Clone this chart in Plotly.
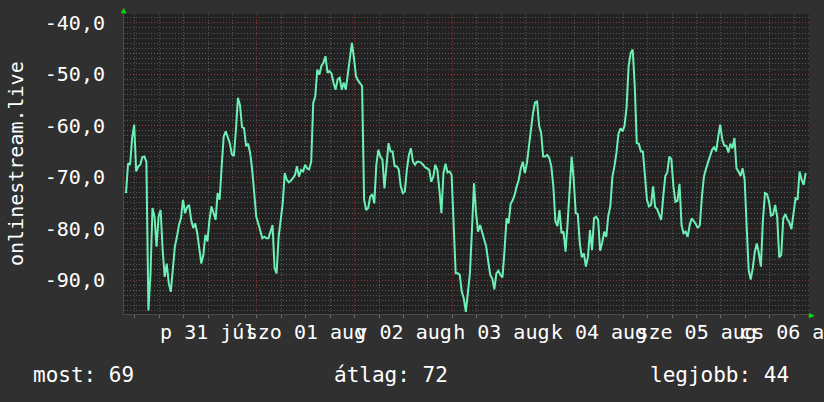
import plotly.graph_objects as go
import pandas as pd

# ---- data ----
start_time = "2020-07-30 15:50"
step = "30min"
signal_values = [
    -73.1, -67.3, -67.6, -62.4, -59.8, -68.9, -67.9, -67.6, -66.1, -66.0,
    -67.0, -95.9, -89.0, -76.0, -77.7, -83.5, -77.7, -76.4, -84.2, -89.4,
    -86.8, -90.6, -92.3, -87.4, -83.5, -81.6, -79.3, -78.0, -74.4, -77.0,
    -75.8, -75.4, -78.3, -79.9, -79.0, -80.9, -84.2, -86.8, -85.1, -81.2,
    -82.5, -78.3, -75.7, -77.0, -78.3, -73.1, -74.4, -67.9, -62.1, -61.1,
    -62.2, -63.4, -65.6, -65.9, -60.8, -54.6, -56.0, -60.3, -60.5, -64.0,
    -63.5, -65.3, -68.6, -73.8, -77.7, -79.0, -80.3, -81.9, -81.6, -81.9,
    -81.9, -80.3, -79.3, -87.7, -88.7, -81.6, -78.6, -75.1, -69.2, -70.5,
    -71.0, -70.7, -70.2, -69.6, -67.9, -69.9, -68.6, -68.9, -67.6, -68.3,
    -68.5, -67.0, -55.6, -54.3, -49.1, -50.1, -48.4, -47.8, -46.5, -49.7,
    -49.4, -49.9, -51.7, -53.0, -51.0, -50.7, -53.0, -51.6, -53.0, -49.7,
    -46.5, -43.9, -46.8, -50.4, -51.2, -51.7, -52.3, -74.4, -76.4, -76.0,
    -73.8, -73.3, -75.1, -67.6, -64.7, -66.0, -66.6, -72.2, -67.3, -63.4,
    -65.0, -65.0, -67.9, -67.9, -68.5, -71.8, -73.1, -72.8, -68.6, -65.7,
    -64.4, -67.0, -67.6, -67.0, -67.0, -67.2, -67.6, -68.1, -68.3, -68.6,
    -70.9, -69.9, -67.6, -68.6, -72.5, -77.0, -69.2, -67.4, -69.1, -68.9,
    -69.6, -80.9, -88.7, -88.7, -89.0, -92.3, -93.6, -96.2, -92.6, -88.7,
    -80.3, -71.2, -77.0, -80.6, -79.3, -80.9, -82.2, -83.5, -86.4, -89.0,
    -89.7, -91.8, -88.7, -88.2, -89.0, -89.5, -84.2, -78.0, -79.0, -75.2,
    -74.5, -73.4, -71.8, -70.5, -68.3, -67.0, -69.2, -67.3, -64.0, -60.8,
    -57.5, -55.5, -55.3, -60.0, -61.4, -66.0, -66.0, -65.7, -66.3, -67.9,
    -71.8, -78.6, -79.5, -76.4, -80.9, -80.6, -84.5, -79.0, -71.5, -66.0,
    -70.5, -77.0, -77.2, -82.9, -85.6, -84.8, -87.4, -85.5, -80.3, -84.2,
    -78.0, -77.7, -78.3, -84.3, -82.7, -80.6, -81.6, -77.5, -75.7, -70.0,
    -67.9, -65.3, -61.6, -60.5, -61.1, -60.0, -56.3, -48.4, -45.9, -45.2,
    -52.3, -63.4, -63.5, -65.0, -65.0, -69.2, -74.4, -75.7, -75.4, -71.8,
    -75.8, -76.2, -77.2, -78.3, -73.8, -69.8, -69.1, -66.0, -66.5, -71.8,
    -74.8, -74.6, -71.3, -79.3, -80.9, -80.6, -81.6, -79.3, -78.0, -78.5,
    -79.1, -79.9, -79.3, -73.8, -69.9, -68.4, -67.0, -65.9, -64.7, -64.2,
    -65.0, -62.2, -59.8, -62.7, -63.9, -63.9, -65.2, -63.5, -64.4, -62.4,
    -68.3, -68.9, -69.8, -68.3, -70.5, -79.6, -88.1, -89.9, -87.7, -84.5,
    -82.9, -84.8, -87.4, -78.3, -73.1, -73.3, -74.8, -77.5, -77.3, -75.4,
    -77.7, -85.6, -85.1, -78.0, -77.2, -78.2, -78.8, -80.1, -77.0, -74.1,
    -74.4, -68.9, -70.5, -71.5, -69.2,
]

day_ticks = ["2020-07-31", "2020-08-01", "2020-08-02", "2020-08-03",
             "2020-08-04", "2020-08-05", "2020-08-06"]
day_labels = ["p 31 júl", "szo 01 aug", "v 02 aug", "h 03 aug",
              "k 04 aug", "sze 05 aug", "cs 06 aug"]
y_ticks = [-40, -50, -60, -70, -80, -90]
y_labels = ["-40,0", "-50,0", "-60,0", "-70,0", "-80,0", "-90,0"]
x_range = ["2020-07-30 15:20", "2020-08-06 15:39"]
y_range = [-96.6, -38.3]
series_name = "onlinestream.live"
current_value = 69
average_value = 72
best_value = 44

times = pd.date_range(start_time, periods=len(signal_values), freq=step)

# ---- styling ----
FONT = "DejaVu Sans Mono"
BG = "#303030"
PLOT_BG = "#222222"
MAJOR = "#8c3434"
MINOR = "#575757"
LINE = "#6cf0b6"

W, H = 824, 402
L, R, T, B = 124, 15, 14, 88
pw, ph = W - L - R, H - T - B


def px_x(px):
    return (px - L) / pw


def px_y(py):
    return (H - B - py) / ph


fig = go.Figure()
fig.add_trace(go.Scatter(
    x=times, y=signal_values, mode="lines",
    line=dict(color=LINE, width=2), hoverinfo="skip", showlegend=False,
))

fig.update_layout(
    width=W, height=H,
    margin=dict(l=L, r=R, t=T, b=B, pad=0, autoexpand=False),
    paper_bgcolor=BG, plot_bgcolor=PLOT_BG,
    font=dict(family=FONT, size=20, color="white"),
    showlegend=False,
)

fig.update_xaxes(
    type="date", range=x_range, automargin=False,
    tickmode="array", tickvals=day_ticks, ticktext=day_labels,
    ticklabelshift=49, ticklabeloverflow="allow", tickangle=0,
    ticks="", ticklen=0,
    showgrid=True, gridcolor=MAJOR, griddash="1px,2px", gridwidth=1,
    minor=dict(tickmode="linear", tick0="2020-07-31", dtick=6 * 3600 * 1000,
               showgrid=True, gridcolor=MINOR, griddash="1px,2px",
               ticks="outside", ticklen=3, tickcolor="#6a6a6a"),
    showline=True, linecolor="#4a4a4a", linewidth=1,
    zeroline=False, fixedrange=True,
    tickfont=dict(family=FONT, size=20, color="white"),
)

fig.update_yaxes(
    range=y_range, automargin=False,
    tickmode="array", tickvals=y_ticks, ticktext=y_labels,
    ticks="", ticklabelstandoff=14,
    showgrid=True, gridcolor=MAJOR, griddash="1px,2px", gridwidth=1,
    minor=dict(tickmode="linear", tick0=-40, dtick=1,
               showgrid=True, gridcolor=MINOR, griddash="1px,2px"),
    showline=True, linecolor="#4a4a4a", linewidth=1,
    zeroline=False, fixedrange=True,
    tickfont=dict(family=FONT, size=20, color="white"),
)

annotations = [
    dict(text=series_name, textangle=-90, x=px_x(16), y=0.5,
         xanchor="center", yanchor="middle", font=dict(size=20)),
    dict(text=f"most: {current_value}", x=px_x(31), y=px_y(375),
         xanchor="left", yanchor="middle", font=dict(size=21)),
    dict(text=f"átlag: {average_value}", x=px_x(332), y=px_y(375),
         xanchor="left", yanchor="middle", font=dict(size=21)),
    dict(text=f"legjobb: {best_value}", x=px_x(648), y=px_y(375),
         xanchor="left", yanchor="middle", font=dict(size=21)),
    dict(text="▲", x=px_x(124), y=px_y(10), xanchor="center",
         yanchor="middle", font=dict(size=9, color="#00e000")),
    dict(text="▶", x=px_x(812), y=px_y(315), xanchor="center",
         yanchor="middle", font=dict(size=9, color="#00e000")),
]
for a in annotations:
    a.update(xref="paper", yref="paper", showarrow=False)
fig.update_layout(annotations=annotations)

fig.write_html(
    "out.html",
    config={"displayModeBar": False},
    post_script="document.body.style.margin='0';"
                "document.body.style.background='" + BG + "';",
)
